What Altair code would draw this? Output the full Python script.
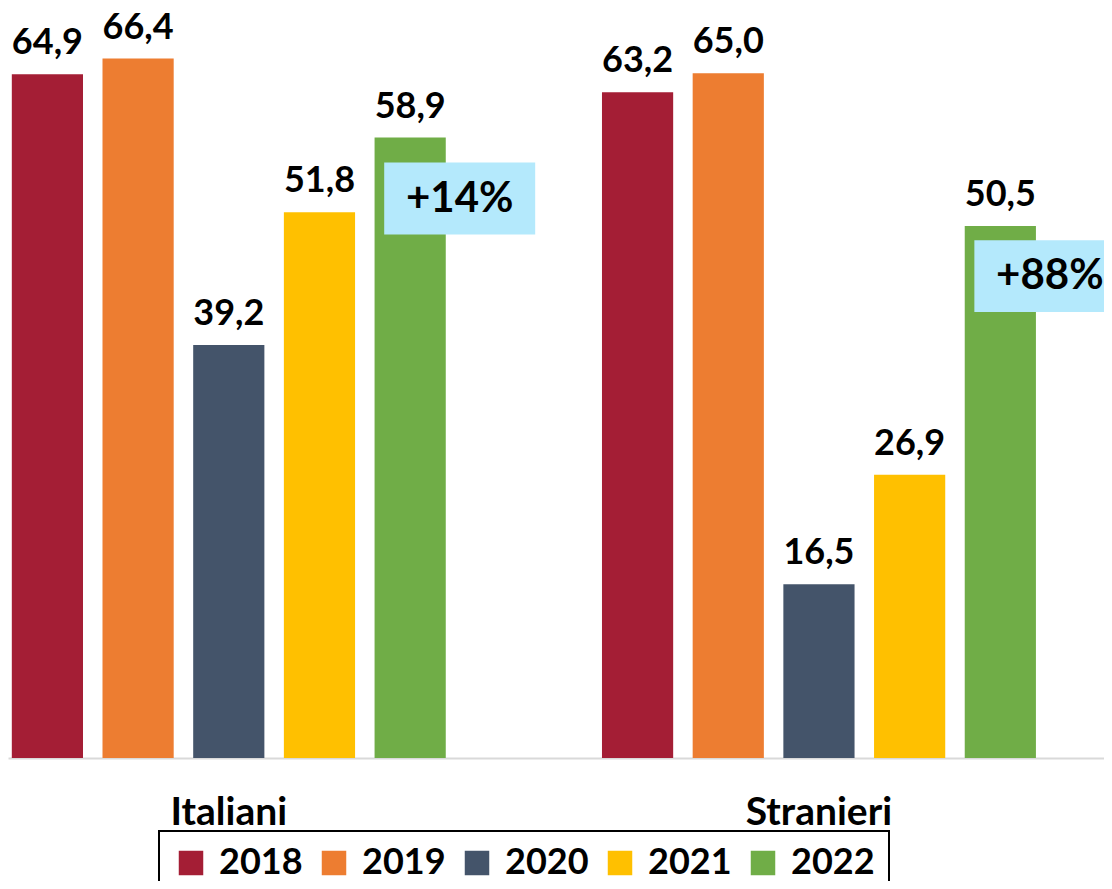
import altair as alt
import pandas as pd

# ---- data ----
groups = ["Italiani", "Stranieri"]
years = ["2018", "2019", "2020", "2021", "2022"]
italiani = [64.9, 66.4, 39.2, 51.8, 58.9]
stranieri = [63.2, 65.0, 16.5, 26.9, 50.5]
colors = ["#A41E35", "#ED7D31", "#44546A", "#FFC000", "#70AD47"]
ann_groups = ["Italiani", "Stranieri"]
ann_years = ["2022", "2022"]
ann_labels = ["+14%", "+88%"]

rows = []
for g, vals in zip(groups, [italiani, stranieri]):
    for yr, v in zip(years, vals):
        rows.append({"group": g, "year": yr, "value": v,
                     "label": f"{v:.1f}".replace(".", ",")})
df = pd.DataFrame(rows)

ann = pd.DataFrame({"group": ann_groups, "year": ann_years, "label": ann_labels})
ann = ann.merge(df[["group", "year", "value"]], on=["group", "year"])

FONT = "Lato"
BOX = "#B4E9FC"

x = alt.X("group:N", sort=groups,
          scale=alt.Scale(paddingInner=0.2647, paddingOuter=0.0609, align=0.053),
          axis=alt.Axis(title=None, labelAngle=0, labelFontSize=39, labelFontWeight="bold",
                        labelColor="black", labelPadding=35, ticks=False, tickSize=0,
                        domainColor="#d9d9d9", domainWidth=2, labelFont=FONT))
xo = alt.XOffset("year:N", sort=years, scale=alt.Scale(paddingInner=0.215, paddingOuter=0))
y = alt.Y("value:Q", scale=alt.Scale(domain=[0, 71.2], nice=False, zero=True), axis=None)

color = alt.Color("year:N", sort=years,
                  scale=alt.Scale(domain=years, range=colors),
                  legend=alt.Legend(title=None, orient="none", legendX=151, legendY=823,
                                    direction="horizontal", symbolType="square",
                                    symbolSize=600, symbolStrokeWidth=0,
                                    labelFontSize=36, labelFontWeight="bold", labelFont=FONT,
                                    labelColor="black", labelOffset=10, columnPadding=13,
                                    padding=14, strokeColor="black"))

bars = alt.Chart(df).mark_bar().encode(x=x, xOffset=xo, y=y, color=color)

values = alt.Chart(df).mark_text(baseline="alphabetic", dy=-20, fontSize=36,
                                 fontWeight="bold", font=FONT, color="black").encode(
    x=x, xOffset=xo, y=y, text="label:N")

ann_shapes = {"Italiani": "M-0.344,0.331H1.656V1.285H-0.344Z",
              "Stranieri": "M-0.344,0.189H1.656V1.139H-0.344Z"}
ann_dy = {"Italiani": 61, "Stranieri": 50}

layers = [bars, values]
for g in ann_groups:
    sub = ann[ann["group"] == g]
    box = alt.Chart(sub).mark_point(shape=ann_shapes[g], size=22801, filled=True,
                                    fill=BOX, strokeWidth=0, opacity=1).encode(
        x=x, xOffset=xo, y=y)
    txt = alt.Chart(sub).mark_text(baseline="middle", align="center", dx=49.5, dy=ann_dy[g],
                                   fontSize=42, fontWeight="bold", font=FONT,
                                   color="black").encode(x=x, xOffset=xo, y=y, text="label:N")
    layers += [box, txt]

chart = alt.layer(*layers).properties(
    width=1096, height=750,
    autosize=alt.AutoSizeParams(type="none"),
    padding={"left": 0, "top": 0, "right": 0, "bottom": 123},
).configure(font=FONT).configure_view(strokeWidth=0, stroke="transparent").configure_legend(strokeWidth=2)

chart.save("out.html", embed_options={"renderer": "svg", "actions": False})
